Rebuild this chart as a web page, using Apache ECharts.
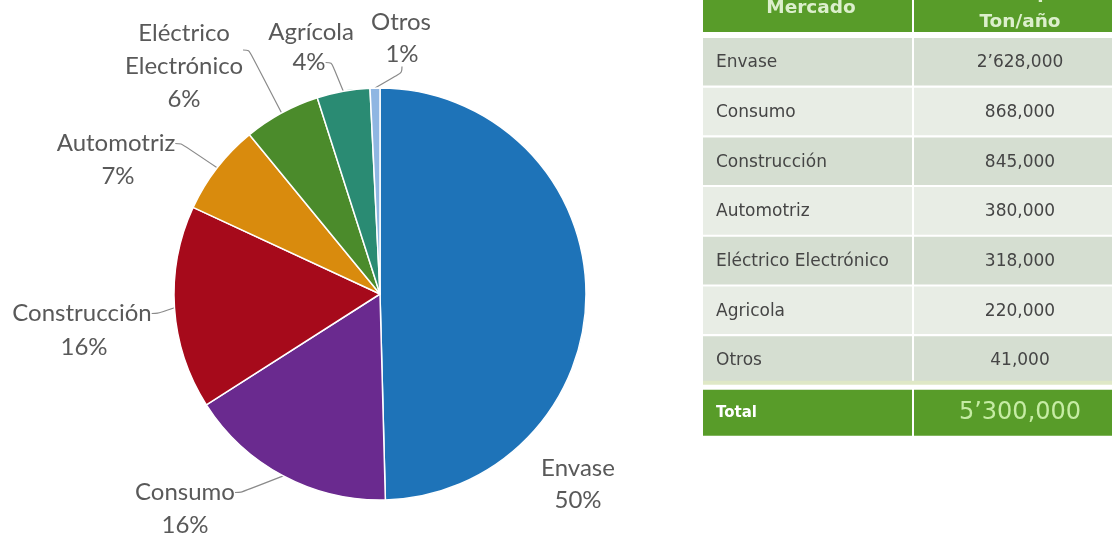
<!DOCTYPE html>
<html>
<head>
<meta charset="utf-8">
<script src="https://cdn.jsdelivr.net/npm/echarts@6/dist/echarts.min.js"></script>
<style>
html,body{margin:0;padding:0;background:#fff;}
#chart{width:1112px;height:536px;}
</style>
</head>
<body>
<div id="chart"></div>
<script>
// ---- data ----
const categories = ['Envase', 'Consumo', 'Construcción', 'Automotriz', 'Eléctrico Electrónico', 'Agrícola', 'Otros'];
const tableLabels = ['Envase', 'Consumo', 'Construcción', 'Automotriz', 'Eléctrico Electrónico', 'Agricola', 'Otros'];
const values = [2628000, 868000, 845000, 380000, 318000, 220000, 41000];
const tableHeaders = ['Mercado', 'Consumo Aparente', 'Ton/año'];
const totalLabel = 'Total';

// ---- styles / layout ----
const sliceColors = ['#1e73b8', '#6a2a8f', '#a60a1b', '#d98b0d', '#4b8b2b', '#2a8b73', '#8fb6e2'];
// name label anchors (center x, top y) and percent label anchors
const namePos = [[578, 452], [185, 476], [82, 297], [116, 127], [184, 17], [311, 16], [401, 6]];
const pctPos = [[578, 484], [185, 509], [84, 331], [118, 160], [184, 83], [309, 46], [402, 38]];
const nameLine = [false, true, true, true, true, false, false];
const pctLine = [false, false, false, false, false, true, true];

function fmt(n) {
  const m = Math.floor(n / 1e6);
  const rest = n % 1e6;
  const th = Math.floor(rest / 1000), u = rest % 1000;
  const pad = v => String(v).padStart(3, '0');
  if (m > 0) return m + '\u2019' + pad(th) + ',' + pad(u);
  return th + ',' + pad(u);
}
const total = values.reduce((a, b) => a + b, 0);

// ---- table via graphic ----
const TX0 = 703, TSPLIT = 912, TX1 = 1135;
const C2 = 1020;
const rowTop0 = 38, rowPitch = 49.7, rowH = 47.6;
const green = '#589c29';
const hdrFont = 'bold 18.5px "DejaVu Sans"';
const cellFont = '17px "DejaVu Sans"';
const g = [];
g.push({type: 'rect', shape: {x: TX0, y: -10, width: TSPLIT - TX0, height: 42}, style: {fill: green}});
g.push({type: 'rect', shape: {x: TSPLIT + 2, y: -10, width: TX1 - TSPLIT, height: 42}, style: {fill: green}});
g.push({type: 'text', x: 811, y: 8, style: {text: tableHeaders[0], fill: '#dcefcc', font: hdrFont, align: 'center', verticalAlign: 'middle'}});
g.push({type: 'text', x: C2, y: -7, style: {text: tableHeaders[1], fill: '#dcefcc', font: hdrFont, align: 'center', verticalAlign: 'middle'}});
g.push({type: 'text', x: C2, y: 22, style: {text: tableHeaders[2], fill: '#dcefcc', font: hdrFont, align: 'center', verticalAlign: 'middle'}});
tableLabels.forEach((name, i) => {
  const y = rowTop0 + rowPitch * i;
  const fill = i % 2 === 0 ? '#d5ded1' : '#e8ede5';
  g.push({type: 'rect', shape: {x: TX0, y: y, width: TSPLIT - TX0, height: rowH}, style: {fill: fill}});
  g.push({type: 'rect', shape: {x: TSPLIT + 2, y: y, width: TX1 - TSPLIT, height: rowH}, style: {fill: fill}});
  g.push({type: 'text', x: 716, y: y + rowH / 2 + 1, style: {text: name, fill: '#454545', font: cellFont, align: 'left', verticalAlign: 'middle'}});
  g.push({type: 'text', x: C2, y: y + rowH / 2 + 1, style: {text: fmt(values[i]), fill: '#454545', font: cellFont, align: 'center', verticalAlign: 'middle'}});
});
const lastBottom = rowTop0 + rowPitch * (tableLabels.length - 1) + rowH;
g.push({type: 'rect', shape: {x: TX0, y: lastBottom - 3, width: TX1 - TX0, height: 4}, style: {fill: '#dfe8c6'}});
const totTop = lastBottom + 6;
g.push({type: 'rect', shape: {x: TX0, y: totTop, width: TSPLIT - TX0, height: 46}, style: {fill: green}});
g.push({type: 'rect', shape: {x: TSPLIT + 2, y: totTop, width: TX1 - TSPLIT, height: 46}, style: {fill: green}});
g.push({type: 'text', x: 716, y: totTop + 23, style: {text: totalLabel, fill: '#ffffff', font: 'bold 15px "DejaVu Sans"', align: 'left', verticalAlign: 'middle'}});
g.push({type: 'text', x: C2, y: totTop + 23, style: {text: fmt(total), fill: '#c6eca4', font: '24px "DejaVu Sans"', align: 'center', verticalAlign: 'middle'}});

const labelText = {fontSize: 24, lineHeight: 33, color: '#595959', fontFamily: 'Lato'};
const lineStyle = {color: '#8a8a8a', width: 1.2};

function pieBase(extra) {
  return Object.assign({
    type: 'pie',
    center: [380, 294],
    radius: 206,
    startAngle: 90,
    clockwise: true,
    avoidLabelOverlap: false,
    minShowLabelAngle: 0
  }, extra);
}

const chart = echarts.init(document.getElementById('chart'), null, {renderer: 'canvas'});
chart.setOption({
  animation: false,
  backgroundColor: '#ffffff',
  graphic: {elements: g},
  series: [
    pieBase({
      name: 'names',
      data: categories.map((c, i) => ({
        name: c, value: values[i],
        itemStyle: {color: sliceColors[i]},
        labelLine: {show: nameLine[i]}
      })),
      itemStyle: {borderColor: '#ffffff', borderWidth: 1.5},
      label: {
        show: true, position: 'outside',
        formatter: p => p.name.split(' ').map(s => '{a|' + s + '}').join('\n'),
        rich: {a: Object.assign({align: 'center'}, labelText)}
      },
      labelLine: {show: true, length: 10, length2: 6, smooth: 0.3, lineStyle: lineStyle},
      labelLayout: p => ({x: namePos[p.dataIndex][0], y: namePos[p.dataIndex][1], align: 'center', verticalAlign: 'top'})
    }),
    pieBase({
      name: 'percents',
      silent: true,
      data: categories.map((c, i) => ({
        name: c, value: values[i],
        labelLine: {show: pctLine[i]}
      })),
      itemStyle: {color: 'rgba(0,0,0,0)', borderWidth: 0},
      label: {
        show: true, position: 'outside',
        formatter: p => '{a|' + Math.round(p.percent) + '%}',
        rich: {a: Object.assign({align: 'center'}, labelText)}
      },
      labelLine: {show: true, length: 10, length2: 6, smooth: 0.3, lineStyle: lineStyle},
      labelLayout: p => ({x: pctPos[p.dataIndex][0], y: pctPos[p.dataIndex][1], align: 'center', verticalAlign: 'top'})
    })
  ]
});
</script>
</body>
</html>
